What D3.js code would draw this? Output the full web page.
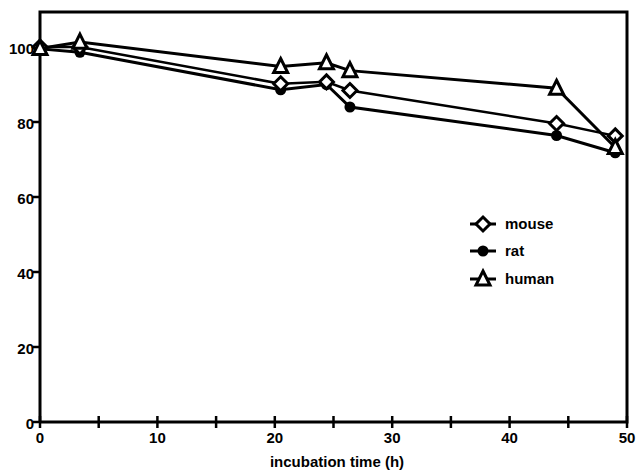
<!DOCTYPE html>
<html><head><meta charset="utf-8">
<script src="https://cdn.jsdelivr.net/npm/d3@7"></script>
<style>body{margin:0;background:#fff}svg{display:block}text{font-family:"Liberation Sans",Arial,sans-serif;font-weight:bold;fill:#000}</style>
</head><body>
<svg id="c" width="638" height="471"></svg>
<script>
const times = [0, 3.4, 20.5, 24.4, 26.4, 44, 49];
const mouse = [100, 100, 90.2, 90.7, 88.4, 79.6, 76.3];
const rat = [99.5, 98.6, 88.6, 90.0, 84.0, 76.4, 71.8];
const human = [99.6, 101.3, 94.8, 95.8, 93.7, 89.0, 73.2];
const xTicks = [0, 5, 10, 15, 20, 25, 30, 35, 40, 45, 50];
const xLabels = [0, 10, 20, 30, 40, 50];
const yTicks = [0, 20, 40, 60, 80, 100];
const seriesNames = ["mouse", "rat", "human"];

const svg = d3.select("#c");
const x = d3.scaleLinear().domain([0, 50]).range([40, 627]);
const y = d3.scaleLinear().domain([0, 100]).range([422, 47]);
const yTop = 12;
const fs = 15;

svg.append("path").attr("d", `M${x(0)},${y(0)}V${yTop}H${x(50)}V${y(0)}H${x(0)}`)
  .attr("fill", "none").attr("stroke", "#000").attr("stroke-width", 3);

svg.selectAll(".xt").data(xTicks).enter().append("line")
  .attr("x1", d => x(d)).attr("x2", d => x(d)).attr("y1", y(0) - 6).attr("y2", y(0) + 6)
  .attr("stroke", "#000").attr("stroke-width", 2.5);
svg.selectAll(".xl").data(xLabels).enter().append("text")
  .attr("x", d => x(d)).attr("y", y(0) + 21).attr("text-anchor", "middle")
  .attr("font-size", fs).text(d => d);
svg.selectAll(".yt").data(yTicks).enter().append("line")
  .attr("x1", x(0) - 7).attr("x2", x(0)).attr("y1", d => y(d)).attr("y2", d => y(d))
  .attr("stroke", "#000").attr("stroke-width", 2.5);
svg.selectAll(".yl").data(yTicks).enter().append("text")
  .attr("x", x(0) - 6).attr("y", d => y(d) + 7).attr("text-anchor", "end")
  .attr("font-size", fs).text(d => d);

svg.append("text").attr("x", 337).attr("y", 467).attr("text-anchor", "middle")
  .attr("font-size", fs).text("incubation time (h)");

const line = d3.line().x(d => x(d[0])).y(d => y(d[1]));
const data = {mouse, rat, human};
const widths = {mouse: 2.5, rat: 3, human: 3};

function marker(g, name, cx, cy) {
  if (name === "mouse") {
    const s = 7;
    g.append("path").attr("d", `M${cx},${cy - s}L${cx + s},${cy}L${cx},${cy + s}L${cx - s},${cy}Z`)
      .attr("fill", "#fff").attr("stroke", "#000").attr("stroke-width", 3);
  } else if (name === "rat") {
    g.append("circle").attr("cx", cx).attr("cy", cy).attr("r", 5.5).attr("fill", "#000");
  } else {
    const s = 7;
    g.append("path").attr("d", `M${cx},${cy - s - 1}L${cx + s},${cy + s - 1}L${cx - s},${cy + s - 1}Z`)
      .attr("fill", "#fff").attr("stroke", "#000").attr("stroke-width", 3).attr("stroke-linejoin", "miter");
  }
}

const order = ["rat", "mouse", "human"];
order.forEach(name => {
  const pts = times.map((t, i) => [t, data[name][i]]);
  svg.append("path").attr("d", line(pts)).attr("fill", "none")
    .attr("stroke", "#000").attr("stroke-width", widths[name]);
});
order.forEach(name => {
  const g = svg.append("g");
  times.forEach((t, i) => marker(g, name, x(t), y(data[name][i])));
});

const legY = [224, 251, 279];
seriesNames.forEach((name, i) => {
  const g = svg.append("g");
  g.append("line").attr("x1", 470).attr("x2", 496).attr("y1", legY[i]).attr("y2", legY[i])
    .attr("stroke", "#000").attr("stroke-width", 3);
  marker(g, name, 483, legY[i]);
  g.append("text").attr("x", 505).attr("y", legY[i] + 5).attr("font-size", fs).text(name);
});
</script>
</body></html>
